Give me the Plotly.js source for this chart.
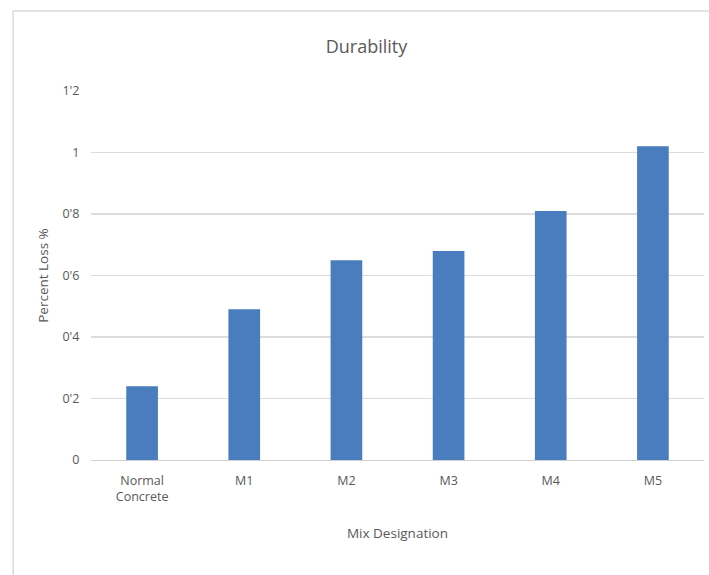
<!DOCTYPE html>
<html>
<head>
<meta charset="utf-8">
<script src="https://cdn.plot.ly/plotly-3.0.1.min.js"></script>
<style>
html,body{margin:0;padding:0;background:#fff;}
#chart{width:709px;height:575px;}
</style>
</head>
<body>
<div id="chart"></div>
<script>
const categories = ["Normal<br>Concrete", "M1", "M2", "M3", "M4", "M5"];
const percentLoss = [0.24, 0.49, 0.65, 0.68, 0.81, 1.02];
const yTickVals = [0, 0.2, 0.4, 0.6, 0.8, 1, 1.2];
const yTickText = ["0", "0'2", "0'4", "0'6", "0'8", "1", "1'2"];

const font = "Open Sans, Noto Sans, sans-serif";

Plotly.newPlot("chart", [{
  type: "bar",
  x: categories,
  y: percentLoss,
  marker: {color: "#4a7dbd"},
  hoverinfo: "none"
}], {
  width: 709, height: 575,
  margin: {l: 91, r: 5, t: 91, b: 115},
  paper_bgcolor: "#fff", plot_bgcolor: "#fff",
  bargap: 0.69,
  showlegend: false,
  title: {text: "Durability", x: 0.517, xanchor: "center", y: 0.918, yanchor: "middle",
          font: {family: font, size: 18, color: "#595959"}},
  xaxis: {
    type: "category",
    tickfont: {family: font, size: 12.5, color: "#595959"},
    showgrid: false, showline: true, linecolor: "#d0d0d0", linewidth: 1,
    ticks: "outside", ticklen: 9, tickcolor: "rgba(0,0,0,0)",
    title: {text: "Mix Designation", standoff: 24, font: {family: font, size: 13.5, color: "#595959"}},
    zeroline: false
  },
  yaxis: {
    range: [0, 1.2],
    tickvals: yTickVals, ticktext: yTickText,
    tickfont: {family: font, size: 12.5, color: "#595959"},
    showgrid: true, gridcolor: "#dcdcdc", gridwidth: 1.2,
    zeroline: false, showline: false,
    ticks: "outside", ticklen: 8, tickcolor: "rgba(0,0,0,0)",
    title: {text: "Percent Loss %", standoff: 10, font: {family: font, size: 13.5, color: "#595959"}}
  },
  shapes: [{
    type: "rect", xref: "paper", yref: "paper",
    x0: -0.127, x1: 1.2, y0: -0.5, y1: 1.217,
    line: {color: "#dadada", width: 1.5}, fillcolor: "rgba(0,0,0,0)", layer: "below"
  }]
}, {staticPlot: true});
</script>
</body>
</html>
